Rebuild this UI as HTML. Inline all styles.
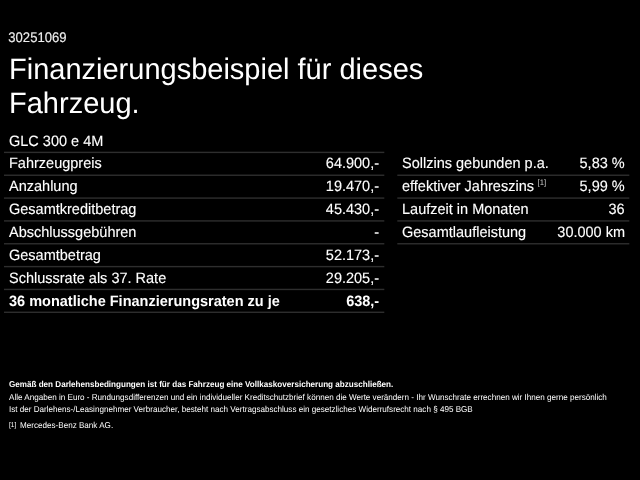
<!DOCTYPE html>
<html><head><meta charset="utf-8">
<style>
html,body{margin:0;padding:0;background:#000;}
body{width:640px;height:480px;overflow:hidden;position:relative;color:#fff;font-family:"Liberation Sans",sans-serif;text-rendering:geometricPrecision;}
.a{position:absolute;white-space:nowrap;}
div.a,.t{filter:blur(0.35px);}
#id{left:8.3px;top:29px;font-size:13.1px;line-height:15px;transform:scaleY(1.06);transform-origin:0 3px;-webkit-text-stroke:0.15px #eee;color:#eee;}
.h{left:9px;font-size:29px;line-height:34px;transform:scaleY(1.02);transform-origin:0 27px;}
.t{position:absolute;top:0;height:480px;font-size:15px;-webkit-text-stroke:0.12px #fff;}
.r{position:absolute;left:0;right:0;height:23px;}
.r span{position:absolute;top:2px;line-height:18px;white-space:nowrap;}
.r .l{left:5px;transform:scaleX(0.967);transform-origin:0 50%;}
.r .v{right:5px;transform:scaleX(0.967);transform-origin:100% 50%;}
.b{font-weight:bold;-webkit-text-stroke:0 !important;}
#t1{left:4px;width:380px;}
#t2{left:398px;width:232px;}
.f{font-size:8.5px;line-height:12px;left:9px;transform:scaleX(0.952);transform-origin:0 50%;}
sup{color:#ccc;-webkit-text-stroke:0;font-size:8px;vertical-align:baseline;position:relative;top:-6px;margin-left:3.8px;line-height:1;}
#t2 .l{left:4.2px;}
</style></head><body>
<svg class="a" style="left:0;top:0" width="640" height="480" viewBox="0 0 640 480" fill="#2e2e2e">
<rect x="4" width="380.3" y="151.70" height="1.4"/>
<rect x="4" width="380.3" y="174.54" height="1.4"/>
<rect x="4" width="380.3" y="197.38" height="1.4"/>
<rect x="4" width="380.3" y="220.22" height="1.4"/>
<rect x="4" width="380.3" y="243.06" height="1.4"/>
<rect x="4" width="380.3" y="265.90" height="1.4"/>
<rect x="4" width="380.3" y="288.74" height="1.4"/>
<rect x="4" width="380.3" y="311.58" height="1.4"/>
<rect x="397.3" y="174.54" width="232" height="1.4"/>
<rect x="397.3" y="197.38" width="232" height="1.4"/>
<rect x="397.3" y="220.22" width="232" height="1.4"/>
<rect x="397.3" y="243.06" width="232" height="1.4"/>
</svg>
<div class="a" id="id">30251069</div>
<div class="a h" style="top:53px">Finanzierungsbeispiel für dieses</div>
<div class="a h" style="top:87px">Fahrzeug.</div>
<div class="t" id="t1">
<div class="r" style="top:131px"><span class="l">GLC 300 e 4M</span></div>
<div class="r" style="top:153px"><span class="l">Fahrzeugpreis</span><span class="v">64.900,-</span></div>
<div class="r" style="top:176px"><span class="l">Anzahlung</span><span class="v">19.470,-</span></div>
<div class="r" style="top:199px"><span class="l">Gesamtkreditbetrag</span><span class="v">45.430,-</span></div>
<div class="r" style="top:222px"><span class="l">Abschlussgebühren</span><span class="v">-</span></div>
<div class="r" style="top:245px"><span class="l">Gesamtbetrag</span><span class="v">52.173,-</span></div>
<div class="r" style="top:268px"><span class="l">Schlussrate als 37. Rate</span><span class="v">29.205,-</span></div>
<div class="r b" style="top:291px"><span class="l">36 monatliche Finanzierungsraten zu je</span><span class="v">638,-</span></div>
</div>
<div class="t" id="t2">
<div class="r" style="top:153px"><span class="l">Sollzins gebunden p.a.</span><span class="v">5,83 %</span></div>
<div class="r" style="top:176px"><span class="l">effektiver Jahreszins<sup>[1]</sup></span><span class="v">5,99 %</span></div>
<div class="r" style="top:199px"><span class="l">Laufzeit in Monaten</span><span class="v">36</span></div>
<div class="r" style="top:222px"><span class="l">Gesamtlaufleistung</span><span class="v">30.000 km</span></div>
</div>
<div class="a f b" style="top:378px">Gemäß den Darlehensbedingungen ist für das Fahrzeug eine Vollkaskoversicherung abzuschließen.</div>
<div class="a f" style="top:391px">Alle Angaben in Euro - Rundungsdifferenzen und ein individueller Kreditschutzbrief können die Werte verändern - Ihr Wunschrate errechnen wir Ihnen gerne persönlich</div>
<div class="a f" style="top:403px">Ist der Darlehens-/Leasingnehmer Verbraucher, besteht nach Vertragsabschluss ein gesetzliches Widerrufsrecht nach § 495 BGB</div>
<div class="a f" style="top:419px"><span style="font-size:7px;position:relative;top:-1px">[1]</span><span style="position:absolute;left:11.6px">Mercedes-Benz Bank AG.</span></div>
</body></html>
